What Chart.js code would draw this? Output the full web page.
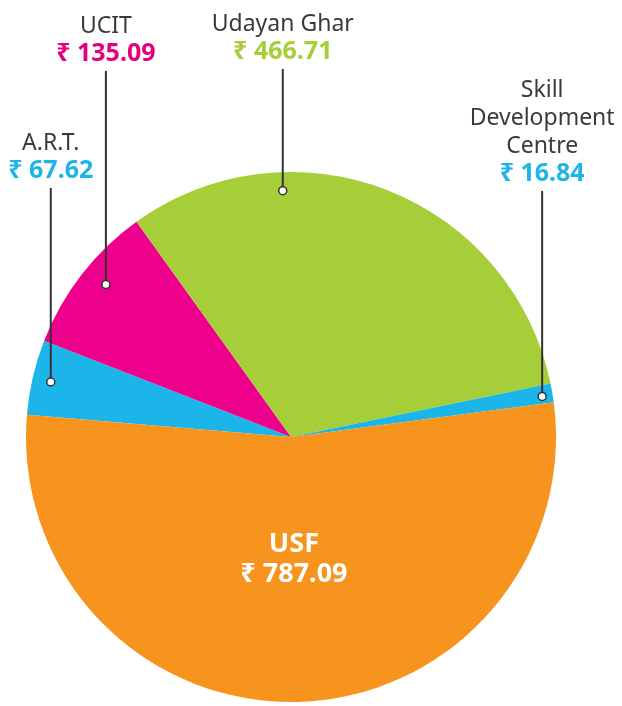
<!DOCTYPE html>
<html>
<head>
  <title>Fund allocation</title>
  <script src="https://cdn.jsdelivr.net/npm/chart.js"></script>
  <style>
    body {
      margin: 0;
      padding: 0;
      background-color: #fff;
    }
    canvas {
      display: block;
    }
  </style>
</head>
<body>
  <canvas id="pieChart" width="622" height="706"></canvas>
  <script>
    // slice order runs clockwise from the left edge
    const categories = ['A.R.T.', 'UCIT', 'Udayan Ghar', 'Skill Development Centre', 'USF'];
    const nameLines = [['A.R.T.'], ['UCIT'], ['Udayan Ghar'], ['Skill', 'Development', 'Centre'], ['USF']];
    const amounts = [67.62, 135.09, 466.71, 16.84, 787.09];
    const sliceColors = ['#1CB5EA', '#EC008C', '#A6CE39', '#1CB5EA', '#F7941E'];
    const valueColors = ['#1EB4E6', '#E6007E', '#A6CE39', '#1EB4E6', '#FFFFFF'];

    // where each leader dot sits inside its slice, and where its text starts
    const labelLayout = [
      { frac: 0.49, rad: 0.93, baseline: 150 },
      { frac: 0.55, rad: 0.905, baseline: 33 },
      { frac: 0.296, rad: 0.93, baseline: 31 },
      { frac: 0.6, rad: 0.96, baseline: 97 },
      { inside: true, frac: 0.5, rad: 0.465 }
    ];

    const FONT = '"Noto Sans", "DejaVu Sans", sans-serif';
    const LINE = 28;

    const labelPlugin = {
      id: 'leaderLabels',
      afterDatasetsDraw(chart) {
        const ctx = chart.ctx;
        const arcs = chart.getDatasetMeta(0).data;
        ctx.save();
        ctx.textAlign = 'center';
        arcs.forEach((arc, i) => {
          const lay = labelLayout[i];
          const a = arc.startAngle + lay.frac * (arc.endAngle - arc.startAngle);
          const px = arc.x + Math.cos(a) * arc.outerRadius * lay.rad;
          const py = arc.y + Math.sin(a) * arc.outerRadius * lay.rad;
          const valueText = '\u20B9 ' + amounts[i].toFixed(2);

          if (lay.inside) {
            ctx.fillStyle = '#FFFFFF';
            ctx.font = 'bold 27px ' + FONT;
            ctx.fillText(nameLines[i][0], px, py - 8);
            ctx.fillText(valueText, px, py + 22);
            return;
          }

          let y = lay.baseline;
          ctx.fillStyle = '#3a3a3a';
          ctx.font = '23px ' + FONT;
          nameLines[i].forEach(t => {
            ctx.fillText(t, px, y);
            y += LINE;
          });
          ctx.fillStyle = valueColors[i];
          ctx.font = 'bold 25px ' + FONT;
          ctx.fillText(valueText, px, y);

          // leader line
          ctx.strokeStyle = '#333';
          ctx.lineWidth = 2;
          ctx.beginPath();
          ctx.moveTo(px, y + 10);
          ctx.lineTo(px, py);
          ctx.stroke();

          ctx.beginPath();
          ctx.arc(px, py, 4, 0, Math.PI * 2);
          ctx.fillStyle = '#fff';
          ctx.fill();
          ctx.lineWidth = 1.5;
          ctx.stroke();
        });
        ctx.restore();
      }
    };

    const ctx = document.getElementById('pieChart').getContext('2d');
    new Chart(ctx, {
      type: 'pie',
      data: {
        labels: categories,
        datasets: [{
          data: amounts,
          backgroundColor: sliceColors,
          borderWidth: 0
        }]
      },
      options: {
        responsive: false,
        animation: false,
        rotation: 274.8,
        layout: {
          padding: { left: 26, right: 66, top: 172, bottom: 4 }
        },
        plugins: {
          legend: { display: false },
          tooltip: { enabled: false }
        }
      },
      plugins: [labelPlugin]
    });
  </script>
</body>
</html>
